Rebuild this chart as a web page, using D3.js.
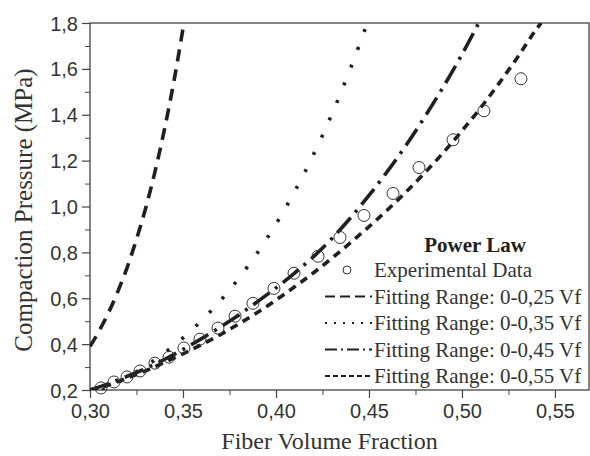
<!DOCTYPE html>
<html>
<head>
<meta charset="utf-8">
<script src="https://cdn.jsdelivr.net/npm/d3@7"></script>
<style>
  body { margin: 0; background: #fff; }
  svg { display: block; }
  .sans { font-family: "Liberation Sans", Arial, sans-serif; }
  .serif { font-family: "Liberation Serif", "Times New Roman", serif; }
</style>
</head>
<body>
<div id="chart"></div>
<script>
// Experimental data (fiber volume fraction, pressure MPa)
const expVf = [0.3059, 0.3129, 0.3199, 0.3269, 0.3349, 0.3425, 0.3505, 0.3591, 0.3688, 0.378, 0.3876,
               0.3989, 0.4097, 0.4226, 0.4344, 0.4473, 0.4629, 0.4769, 0.4952, 0.5118, 0.5317];
const expP  = [0.209, 0.235, 0.257, 0.283, 0.317, 0.343, 0.383, 0.422, 0.470, 0.522, 0.578,
               0.643, 0.709, 0.783, 0.865, 0.961, 1.057, 1.170, 1.291, 1.417, 1.557];

// Power law fits
const fit25Vf = [0.300, 0.305, 0.310, 0.315, 0.320, 0.325, 0.330, 0.335, 0.340, 0.345, 0.3505];
const fit25P  = [0.390, 0.459, 0.538, 0.630, 0.735, 0.857, 0.995, 1.154, 1.335, 1.541, 1.800];

const fit35Vf = [0.3065, 0.315, 0.325, 0.335, 0.345, 0.355, 0.365, 0.375, 0.385, 0.395, 0.405, 0.415, 0.425, 0.435, 0.445, 0.4495];
const fit35P  = [0.199, 0.233, 0.279, 0.332, 0.393, 0.464, 0.544, 0.636, 0.741, 0.859, 0.992, 1.142, 1.310, 1.498, 1.709, 1.810];

const fit45Vf = [0.300, 0.310, 0.320, 0.330, 0.340, 0.350, 0.360, 0.370, 0.380, 0.390, 0.400, 0.410,
                 0.420, 0.430, 0.440, 0.450, 0.460, 0.470, 0.480, 0.490, 0.500, 0.509];
const fit45P  = [0.200, 0.228, 0.260, 0.294, 0.333, 0.377, 0.424, 0.474, 0.527, 0.585, 0.645, 0.710,
                 0.780, 0.860, 0.950, 1.048, 1.154, 1.268, 1.391, 1.522, 1.663, 1.800];

const fit55Vf = [0.300, 0.310, 0.320, 0.330, 0.340, 0.350, 0.360, 0.370, 0.380, 0.390, 0.400, 0.410, 0.420,
                 0.430, 0.440, 0.450, 0.460, 0.470, 0.480, 0.490, 0.500, 0.510, 0.520, 0.530, 0.540, 0.5425];
const fit55P  = [0.196, 0.222, 0.252, 0.284, 0.320, 0.358, 0.398, 0.441, 0.488, 0.538, 0.592, 0.650, 0.710,
                 0.774, 0.842, 0.912, 0.986, 1.064, 1.147, 1.235, 1.330, 1.430, 1.538, 1.652, 1.773, 1.800];

const xTicks = [0.30, 0.35, 0.40, 0.45, 0.50, 0.55];
const yTicks = [0.2, 0.4, 0.6, 0.8, 1.0, 1.2, 1.4, 1.6, 1.8];

const legendLabels = ["Experimental Data", "Fitting Range: 0-0,25 Vf", "Fitting Range: 0-0,35 Vf",
                      "Fitting Range: 0-0,45 Vf", "Fitting Range: 0-0,55 Vf"];

const W = 590, H = 456;
const margin = { top: 23, right: 1, bottom: 66, left: 90 };
const iw = W - margin.left - margin.right;
const ih = H - margin.top - margin.bottom;
const ink = "#231f20";
const comma = d3.formatLocale({ decimal: ",", thousands: ".", grouping: [3], currency: ["", ""] });

const svg = d3.select("#chart").append("svg").attr("width", W).attr("height", H);
const g = svg.append("g").attr("transform", `translate(${margin.left},${margin.top})`);

const x = d3.scaleLinear().domain([0.30, 0.5683]).range([0, iw]);
const y = d3.scaleLinear().domain([0.2, 1.8]).range([ih, 0]);

svg.append("defs").append("clipPath").attr("id", "clip")
  .append("rect").attr("width", iw).attr("height", ih);

// frame
g.append("rect").attr("width", iw).attr("height", ih)
  .attr("fill", "none").attr("stroke", "#444").attr("stroke-width", 1.3);

// minor ticks
const xMinor = d3.range(0.325, 0.57, 0.05);
g.append("g").attr("transform", `translate(0,${ih})`)
  .call(d3.axisBottom(x).tickValues(xMinor).tickSize(5).tickFormat(""))
  .call(a => a.select(".domain").remove())
  .selectAll("line").attr("stroke", "#444");
const yMinor = d3.range(0.3, 1.8, 0.2);
g.append("g")
  .call(d3.axisLeft(y).tickValues(yMinor).tickSize(5).tickFormat(""))
  .call(a => a.select(".domain").remove())
  .selectAll("line").attr("stroke", "#444");

// major axes
const xAxis = g.append("g").attr("transform", `translate(0,${ih})`)
  .call(d3.axisBottom(x).tickValues(xTicks).tickSize(8).tickPadding(6).tickFormat(comma.format(".2f")));
xAxis.attr("font-family", null).attr("font-size", null);
xAxis.select(".domain").remove();
xAxis.selectAll("line").attr("stroke", "#444").attr("stroke-width", 1.2);
xAxis.selectAll("text").attr("class", "sans").style("font-size", "20px").attr("fill", "#333");

const yAxis = g.append("g")
  .call(d3.axisLeft(y).tickValues(yTicks).tickSize(8).tickPadding(4).tickFormat(comma.format(".1f")));
yAxis.attr("font-family", null).attr("font-size", null);
yAxis.select(".domain").remove();
yAxis.selectAll("line").attr("stroke", "#444").attr("stroke-width", 1.2);
yAxis.selectAll("text").attr("class", "sans").style("font-size", "20px").attr("fill", "#333").attr("dy", "0.35em");

// axis titles
svg.append("text")
  .attr("class", "serif")
  .attr("x", margin.left + iw / 2 - 10).attr("y", 449)
  .attr("text-anchor", "middle")
  .style("font-size", "24px").attr("fill", "#333")
  .text("Fiber Volume Fraction");

svg.append("text")
  .attr("class", "serif")
  .attr("transform", `translate(32,210) rotate(-90)`)
  .attr("text-anchor", "middle")
  .style("font-size", "25px").attr("fill", "#333")
  .text("Compaction Pressure (MPa)");

// fitted curves
const series = [
  { vf: fit25Vf, p: fit25P, dash: "12,8", lDash: "10,5" },
  { vf: fit35Vf, p: fit35P, dash: "3,16", lDash: "2,7" },
  { vf: fit45Vf, p: fit45P, dash: "20,7,3,7", lDash: "12,4,2,4" },
  { vf: fit55Vf, p: fit55P, dash: "8,6", lDash: "5,3" }
];

const line = d3.line().x(d => x(d[0])).y(d => y(d[1])).curve(d3.curveMonotoneX);
const plot = g.append("g").attr("clip-path", "url(#clip)");

plot.selectAll(".fit")
  .data(series)
  .enter()
  .append("path")
  .attr("class", "fit")
  .attr("d", s => line(s.vf.map((v, i) => [v, s.p[i]])))
  .attr("fill", "none")
  .attr("stroke", ink)
  .attr("stroke-width", 3.6)
  .attr("stroke-dasharray", s => s.dash);

// experimental points
g.selectAll(".pt")
  .data(expVf.map((v, i) => [v, expP[i]]))
  .enter()
  .append("circle")
  .attr("cx", d => x(d[0]))
  .attr("cy", d => y(d[1]))
  .attr("r", 6)
  .attr("fill", "none")
  .attr("stroke", "#333")
  .attr("stroke-width", 1);

// legend
const leg = svg.append("g");
leg.append("text")
  .attr("class", "serif")
  .attr("x", 475).attr("y", 252)
  .attr("text-anchor", "middle")
  .style("font-size", "21px").attr("font-weight", "bold").attr("fill", ink)
  .text("Power Law");

const rowY = i => 270 + i * 26.5;
leg.selectAll(".lt")
  .data(legendLabels)
  .enter()
  .append("text")
  .attr("class", "serif")
  .attr("x", 374).attr("y", (d, i) => rowY(i) + 7)
  .style("font-size", "21px").attr("fill", "#333")
  .text(d => d);

leg.append("circle").attr("cx", 347).attr("cy", rowY(0)).attr("r", 4)
  .attr("fill", "none").attr("stroke", "#333").attr("stroke-width", 1);

leg.selectAll(".ll")
  .data(series)
  .enter()
  .append("line")
  .attr("x1", 325).attr("x2", 372)
  .attr("y1", (d, i) => rowY(i + 1)).attr("y2", (d, i) => rowY(i + 1))
  .attr("stroke", ink).attr("stroke-width", 1.8)
  .attr("stroke-dasharray", s => s.lDash);
</script>
</body>
</html>
